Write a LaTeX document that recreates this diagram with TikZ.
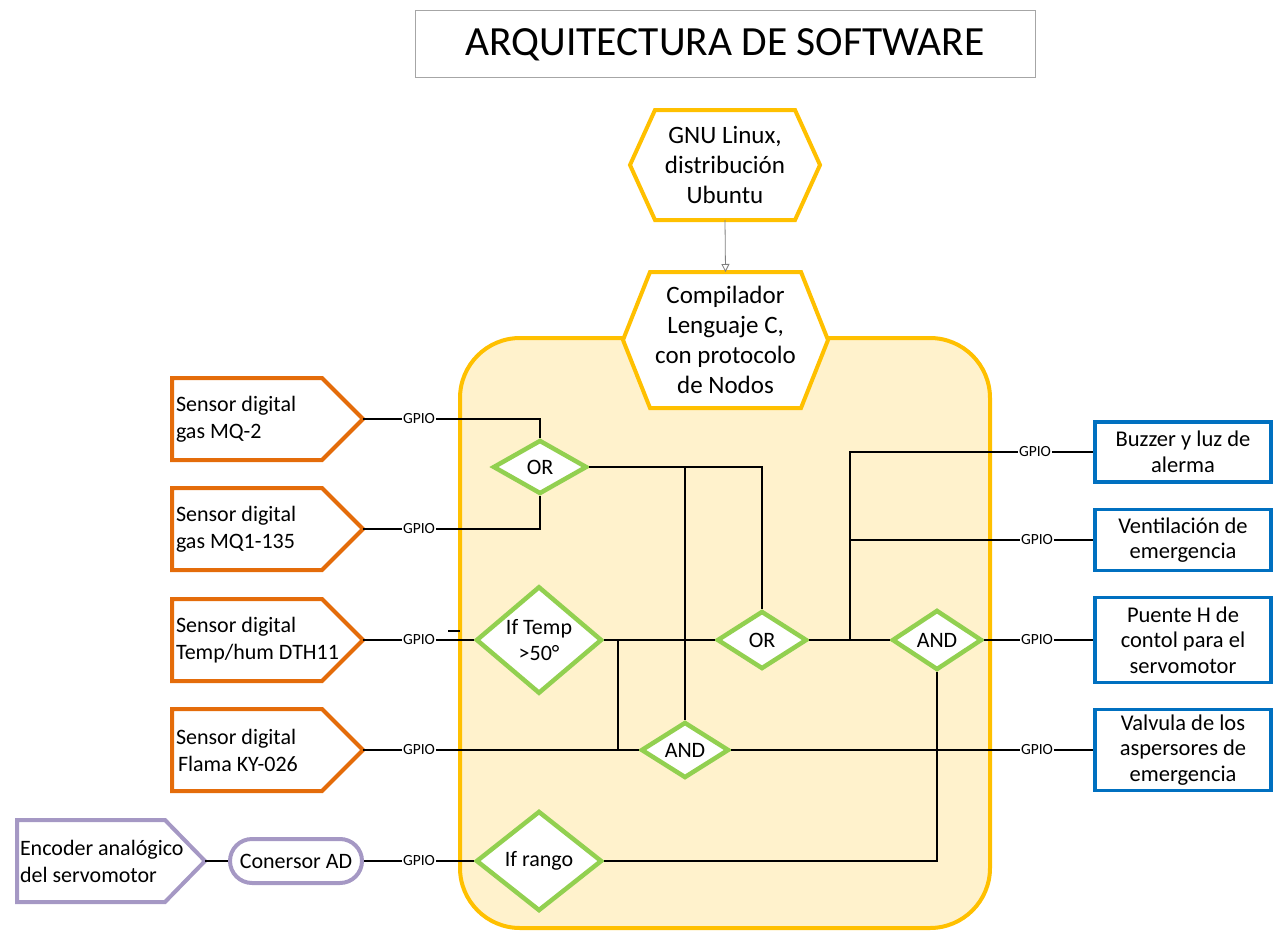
\documentclass[tikz,border=0pt]{standalone}
\usepackage{fontspec}
\setmainfont{Carlito}
\usetikzlibrary{shapes.geometric,calc,backgrounds,arrows.meta}
\definecolor{orng}{HTML}{E46C0A}
\definecolor{yel}{HTML}{FFC000}
\definecolor{yelfill}{HTML}{FFF2CC}
\definecolor{grn}{HTML}{92D050}
\definecolor{blu}{HTML}{0070C0}
\definecolor{purp}{HTML}{A598C4}
\definecolor{ttlgray}{HTML}{A6A6A6}
\tikzset{
  sensor/.style={minimum width=191, minimum height=82, inner xsep=4, text width=183, align=flush left, outer sep=0, font=\fontsize{22}{27}\selectfont},
  sensorline/.style={draw=#1, line width=4, line join=miter},
  hexnode/.style={outer sep=0, inner sep=0, align=center, font=\fontsize{25}{30}\selectfont},
  hexline/.style={draw=yel, line width=4, line join=miter, fill=white},
  gate/.style={diamond, draw=grn, line width=4.5, fill=white, inner sep=0, align=center, font=\fontsize{22}{26}\selectfont},
  outbox/.style={draw=blu, line width=3.5, minimum width=176, align=center, font=\fontsize{22.5}{25.5}\selectfont},
  gpio/.style={inner sep=0.6, font=\fontsize{15.5}{16}\selectfont},
  wire/.style={draw=black, line width=1.2},
}
\begin{document}
\begin{tikzpicture}[x=1pt,y=-1pt]
\useasboundingbox (0,0) rectangle (1280,934);

% title
\node[draw=ttlgray, line width=1, minimum width=620, minimum height=67, font=\fontsize{41.5}{46}\selectfont] (title) at (725,44.5) {ARQUITECTURA DE SOFTWARE};

% yellow region
\begin{scope}[on background layer]
\draw[draw=yel, fill=yelfill, line width=4, rounded corners=60] (460,338) rectangle (990,928);
\end{scope}

% hexagons
\node[hexnode, minimum width=190, minimum height=110] (gnu) at (725,165) {GNU Linux,\\distribución\\Ubuntu};
\node[hexnode, minimum width=205, minimum height=136] (comp) at (725.5,340) {Compilador\\Lenguaje C,\\con protocolo\\de Nodos};
\begin{scope}[on background layer]
\draw[hexline] (gnu.west) -- ($(gnu.north west)+(25,0)$) -- ($(gnu.north east)+(-25,0)$) -- (gnu.east) -- ($(gnu.south east)+(-25,0)$) -- ($(gnu.south west)+(25,0)$) -- cycle;
\draw[hexline] (comp.west) -- ($(comp.north west)+(27,0)$) -- ($(comp.north east)+(-27,0)$) -- (comp.east) -- ($(comp.south east)+(-27,0)$) -- ($(comp.south west)+(27,0)$) -- cycle;
\end{scope}
\draw[draw=gray, line width=0.8, -{Triangle[open, length=8, width=8]}] (gnu.south) -- (comp.north);

% sensors
\node[sensor] (s1) at (267.5,419) {Sensor digital\\gas MQ-2};
\node[sensor] (s2) at (267.5,529) {Sensor digital\\gas MQ1-135};
\node[sensor] (s3) at (267.5,640) {Sensor digital\\Temp/hum DTH11};
\node[sensor] (s4) at (267.5,750) {Sensor digital\\\hspace*{2pt}Flama KY-026};
\node[sensor, minimum width=188, text width=182, inner xsep=3] (enc) at (111,861) {Encoder analógico\\del servomotor};
\foreach \s in {s1,s2,s3,s4}{
  \draw[sensorline=orng] (\s.north west) -- ($(\s.north east)+(-41,0)$) -- (\s.east) -- ($(\s.south east)+(-41,0)$) -- (\s.south west) -- cycle;
}
\draw[sensorline=purp] (enc.north west) -- ($(enc.north east)+(-40,0)$) -- (enc.east) -- ($(enc.south east)+(-40,0)$) -- (enc.south west) -- cycle;
\node[draw=purp, line width=4, rounded corners=22, minimum width=132, minimum height=44, font=\fontsize{22}{26}\selectfont] (conv) at (296,861) {Conersor AD};

% outputs
\node[outbox, minimum height=60] (buzz) at (1183,452) {Buzzer y luz de\\alerma};
\node[outbox, minimum height=61] (vent) at (1183,540) {Ventilación de\\emergencia};
\node[outbox, minimum height=85] (puen) at (1183,640) {Puente H de\\contol para el\\servomotor};
\node[outbox, minimum height=81] (valv) at (1183,750) {Valvula de los\\aspersores de\\emergencia};

% gates
\node[gate, minimum width=94, minimum height=54] (or1) at (540,467) {OR};
\node[gate, minimum width=126, minimum height=100] (ift) at (539,640) {If Temp\\>50°};
\node[gate, minimum width=90, minimum height=58] (or2) at (762,640) {OR};
\node[gate, minimum width=88, minimum height=56] (and1) at (685,750) {AND};
\node[gate, minimum width=90, minimum height=60] (and2) at (937,640) {AND};
\node[gate, minimum width=126, minimum height=100] (ifr) at (539,861) {If rango};

% GPIO labels
\node[gpio] (g1) at (419,419) {GPIO};
\node[gpio] (g2) at (419,529) {GPIO};
\node[gpio] (g3) at (419,640) {GPIO};
\node[gpio] (g4) at (419,750) {GPIO};
\node[gpio] (g8) at (419,861) {GPIO};
\node[gpio] (g5) at (1035,452) {GPIO};
\node[gpio] (g6) at (1037,540) {GPIO};
\node[gpio] (g7) at (1037,640) {GPIO};
\node[gpio] (g9) at (1037,750) {GPIO};

% junctions
\coordinate (j1) at (618,640);
\coordinate (j2) at (850,640);

% wires
\draw[wire] (s1.east) -- (g1) -| (or1.north);
\draw[wire] (s2.east) -- (g2) -| (or1.south);
\draw[wire] (or1.east) -| (or2.north);
\draw[wire] (and1.north |- or1.east) -- (and1.north);
\draw[wire] (s3.east) -- (g3) -- (ift.west);
\draw[wire] (ift.east) -- (or2.west);
\draw[wire] (j1) |- (and1.west);
\draw[wire] (s4.east) -- (g4) -- (and1.west);
\draw[wire] (and1.east) -- (g9) -- (valv.west);
\draw[wire] (or2.east) -- (and2.west);
\draw[wire] (j2) |- (g5);
\draw[wire] (g5) -- (buzz.west);
\draw[wire] (j2 |- vent.west) -- (g6) -- (vent.west);
\draw[wire] (and2.east) -- (g7) -- (puen.west);
\draw[wire] (and2.south) |- (ifr.east);
\draw[wire] (enc.east) -- (conv.west);
\draw[wire] (conv.east) -- (g8) -- (ifr.west);
\draw[wire] (448,631) -- (460,631);
\end{tikzpicture}
\end{document}
